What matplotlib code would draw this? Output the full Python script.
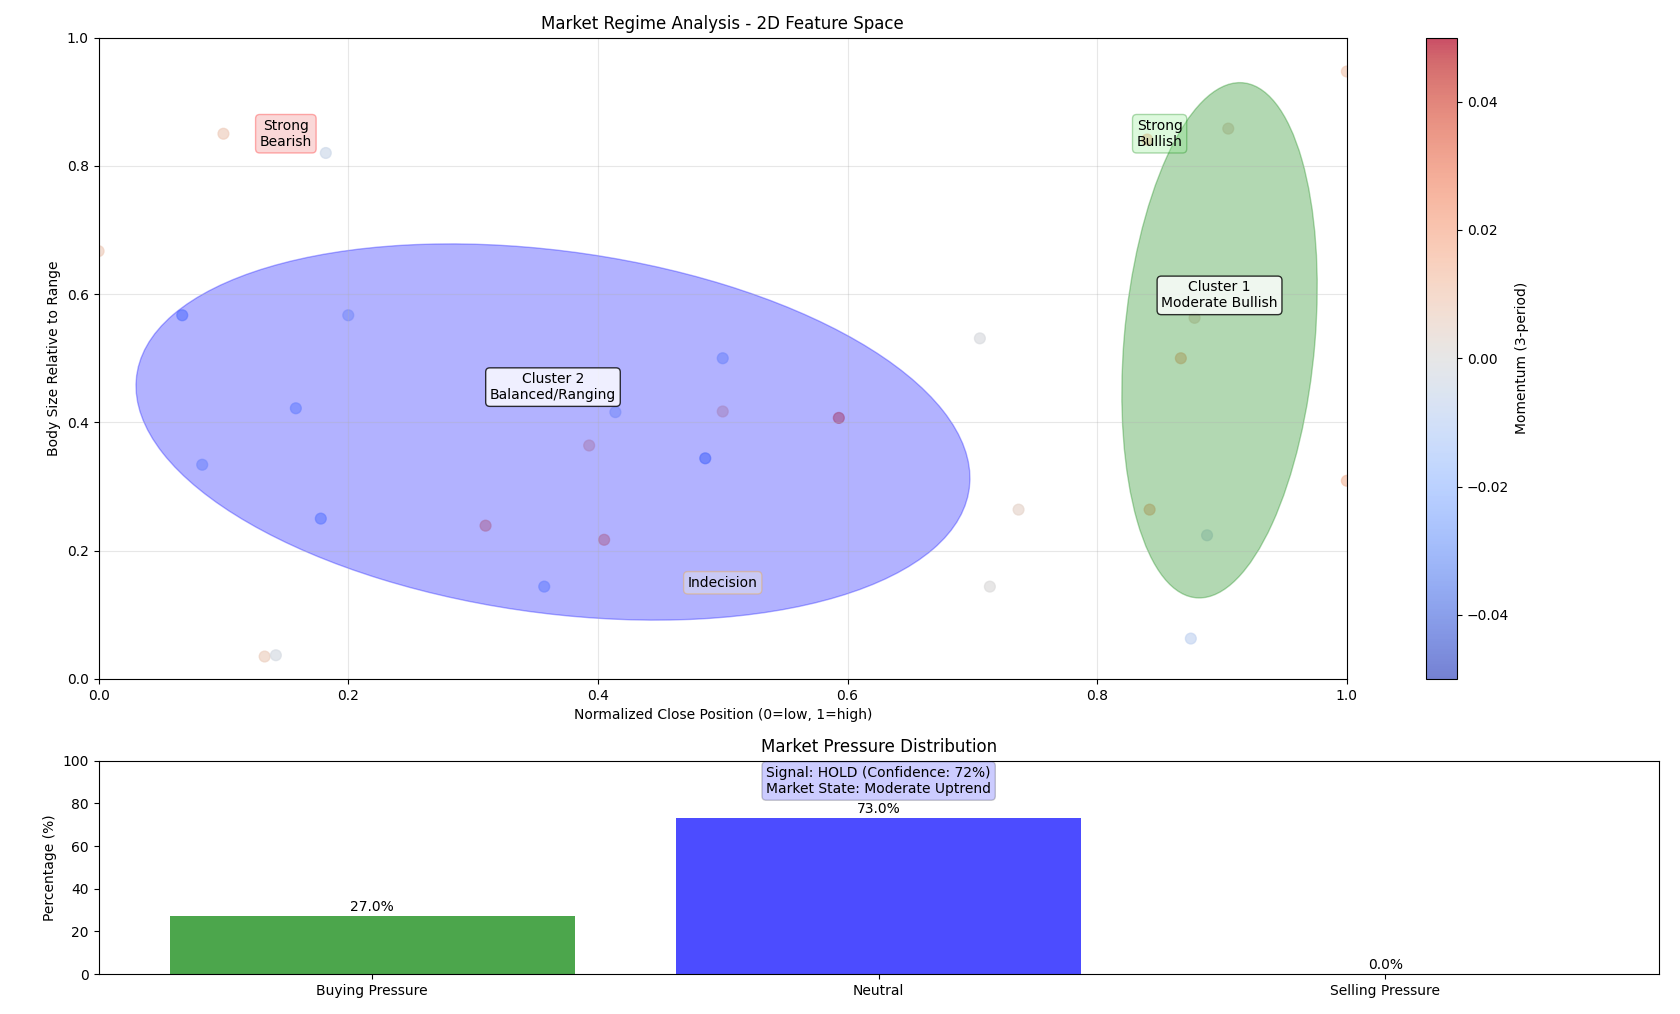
import matplotlib
matplotlib.use("Agg")
import matplotlib.pyplot as plt
from matplotlib.patches import Ellipse
import numpy as np

# ---- data ----
close_pos = [0.10, 0.182, 0.0, 0.067, 0.20, 0.158, 0.083, 0.178, 0.31, 0.357,
             0.393, 0.405, 0.414, 0.50, 0.50, 0.486, 0.593, 0.706, 0.737, 0.714,
             0.133, 0.142, 1.0, 1.0, 0.905, 0.840, 0.878, 0.867, 0.842, 0.888, 0.875]
body_ratio = [0.85, 0.82, 0.667, 0.567, 0.567, 0.422, 0.334, 0.25, 0.239, 0.144,
              0.364, 0.217, 0.416, 0.50, 0.417, 0.344, 0.407, 0.531, 0.264, 0.144,
              0.035, 0.037, 0.947, 0.309, 0.858, 0.841, 0.563, 0.50, 0.264, 0.224, 0.063]
momentum = [0.008, -0.005, 0.008, -0.025, -0.012, -0.018, -0.015, -0.022, 0.02, -0.018,
            0.012, 0.02, -0.012, -0.015, 0.01, -0.028, 0.03, -0.001, 0.004, 0.0,
            0.007, -0.002, 0.01, 0.014, 0.005, 0.014, 0.005, 0.014, 0.014, -0.005, -0.008]

cluster_centers = [(0.364, 0.385), (0.898, 0.528)]
cluster_widths = [0.710, 0.153]
cluster_heights = [0.535, 0.804]
cluster_angles = [-31.0, -2.4]
cluster_colors = ["blue", "green"]
cluster_labels = ["Cluster 2\nBalanced/Ranging", "Cluster 1\nModerate Bullish"]

regions = ["Strong\nBearish", "Strong\nBullish", "Indecision"]
region_pos = [(0.15, 0.85), (0.85, 0.85), (0.5, 0.15)]
region_face = ["lightcoral", "lightgreen", "lightyellow"]
region_edge = ["red", "green", "orange"]

pressure_labels = ["Buying Pressure", "Neutral", "Selling Pressure"]
pressure_values = [27.0, 73.0, 0.0]
pressure_colors = ["green", "blue", "red"]

signal_text = "Signal: HOLD (Confidence: 72%)\nMarket State: Moderate Uptrend"

# ---- figure ----
fig = plt.figure(figsize=(16.8, 10.14), dpi=100)
ax = fig.add_axes([0.0587, 0.3304, 0.743, 0.6326])
cax = fig.add_axes([0.8488, 0.3304, 0.0185, 0.6326])
ax2 = fig.add_axes([0.0587, 0.0394, 0.9286, 0.2104])

sc = ax.scatter(close_pos, body_ratio, c=momentum, cmap="coolwarm",
                vmin=-0.05, vmax=0.05, s=60, alpha=0.7)

for (cx, cy), w, h, a, col, lab in zip(cluster_centers, cluster_widths, cluster_heights,
                                       cluster_angles, cluster_colors, cluster_labels):
    e = Ellipse((cx, cy), w, h, angle=a, facecolor=col, edgecolor=col, alpha=0.3)
    ax.add_patch(e)
    ax.text(cx, cy + 0.07, lab, ha="center", va="center", fontsize=10,
            bbox=dict(boxstyle="round", facecolor="white", alpha=0.8))

for lab, (px, py), fc, ec in zip(regions, region_pos, region_face, region_edge):
    ax.text(px, py, lab, ha="center", va="center", fontsize=10,
            bbox=dict(boxstyle="round", facecolor=fc, edgecolor=ec, alpha=0.3))

ax.set_xlim(0, 1)
ax.set_ylim(0, 1)
ax.grid(True, alpha=0.3)
ax.set_xlabel("Normalized Close Position (0=low, 1=high)")
ax.set_ylabel("Body Size Relative to Range")
ax.set_title("Market Regime Analysis - 2D Feature Space", fontsize=12)

cb = fig.colorbar(sc, cax=cax)
cb.set_label("Momentum (3-period)")

bars = ax2.bar(pressure_labels, pressure_values, color=pressure_colors, alpha=0.7)
for b, v in zip(bars, pressure_values):
    ax2.text(b.get_x() + b.get_width() / 2, v + 1, f"{v:.1f}%", ha="center", va="bottom")
ax2.set_ylim(0, 100)
ax2.set_ylabel("Percentage (%)")
ax2.set_title("Market Pressure Distribution", fontsize=12)
ax2.text(0.5, 0.905, signal_text, transform=ax2.transAxes, ha="center", va="center",
         fontsize=10, bbox=dict(boxstyle="round", facecolor="blue", alpha=0.2))

fig.savefig("out.png", dpi=100)
